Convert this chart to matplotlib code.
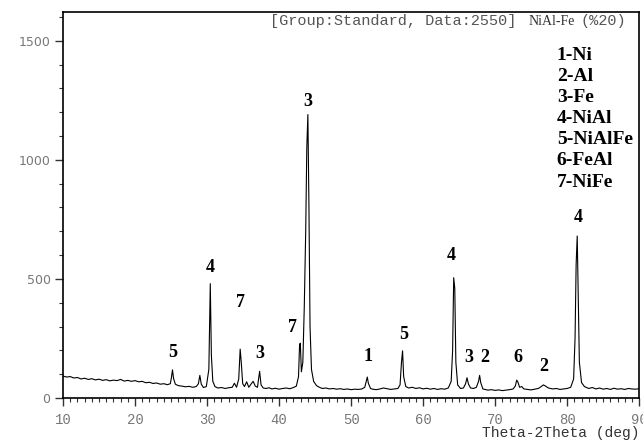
import numpy as np
import matplotlib.pyplot as plt
from matplotlib.ticker import MultipleLocator

# XRD scan (2theta in deg, intensity in counts)
two_theta = [
    10.0, 10.5, 11.0, 11.5, 12.0, 12.5, 13.0, 13.5, 14.0, 14.5,
    15.0, 15.5, 16.0, 16.5, 17.0, 17.5, 18.0, 18.5, 19.0, 19.5,
    20.0, 20.5, 21.0, 21.5, 22.0, 22.5, 23.0, 23.5, 24.0, 24.5,
    24.9, 25.05, 25.2, 25.35, 25.6, 26.0, 26.5, 27.0, 27.5, 28.0,
    28.5, 28.8, 29.0, 29.2, 29.5, 29.9, 30.25, 30.45, 30.6, 30.8,
    31.1, 31.5, 32.0, 32.5, 33.0, 33.5, 33.8, 34.1, 34.4, 34.6,
    34.75, 34.95, 35.2, 35.5, 35.8, 36.1, 36.4, 36.7, 37.0, 37.3,
    37.5, 37.8, 38.2, 38.6, 39.0, 39.5, 40.0, 40.5, 41.0, 41.5,
    42.0, 42.4, 42.7, 42.85, 42.95, 43.1, 43.3, 43.5, 43.7, 43.85,
    44.0, 44.15, 44.3, 44.5, 44.8, 45.2, 45.6, 46.0, 46.5, 47.0,
    47.5, 48.0, 48.5, 49.0, 49.5, 50.0, 50.5, 51.0, 51.5, 51.9,
    52.1, 52.25, 52.4, 52.7, 53.0, 53.5, 54.0, 54.5, 55.0, 55.5,
    56.0, 56.5, 56.8, 57.0, 57.15, 57.3, 57.6, 58.0, 58.5, 59.0,
    59.5, 60.0, 60.5, 61.0, 61.5, 62.0, 62.5, 63.0, 63.5, 63.9,
    64.1, 64.25, 64.4, 64.55, 64.8, 65.2, 65.6, 65.9, 66.1, 66.3,
    66.6, 67.0, 67.4, 67.7, 67.85, 68.0, 68.3, 68.7, 69.0, 69.5,
    70.0, 70.5, 71.0, 71.5, 72.0, 72.5, 72.8, 73.0, 73.15, 73.4,
    73.7, 74.0, 74.5, 75.0, 75.5, 76.0, 76.4, 76.7, 77.0, 77.4,
    78.0, 78.5, 79.0, 79.5, 80.0, 80.5, 80.9, 81.1, 81.25, 81.4,
    81.55, 81.7, 82.0, 82.4, 83.0, 83.5, 84.0, 84.5, 85.0, 85.5,
    86.0, 86.5, 87.0, 87.5, 88.0, 88.5, 89.0, 89.5, 90.0,
]
counts = [
    92, 88, 90, 84, 86, 80, 83, 78, 81, 76,
    79, 74, 77, 72, 75, 73, 78, 71, 74, 70,
    73, 68, 70, 64, 66, 61, 63, 58, 60, 56,
    60, 85, 118, 82, 58, 52, 50, 47, 49, 45,
    48, 60, 95, 58, 44, 48, 120, 480, 180, 70,
    48, 42, 44, 40, 43, 45, 62, 45, 80, 205,
    150, 60, 48, 68, 45, 58, 70, 50, 45, 112,
    55, 42, 40, 43, 38, 41, 37, 40, 42, 39,
    44, 50, 90, 225, 230, 110, 150, 380, 700, 1050,
    1190, 800, 300, 120, 70, 52, 45, 40, 42, 38,
    40, 37, 39, 36, 38, 35, 37, 36, 38, 45,
    70, 88, 62, 40, 37, 35, 38, 42, 39, 36,
    38, 40, 55, 150, 198, 90, 48, 42, 45, 40,
    43, 38, 41, 37, 40, 36, 39, 37, 42, 70,
    200, 505, 460, 150, 55, 40, 42, 60, 85, 58,
    42, 40, 45, 70, 95, 65, 38, 35, 33, 35,
    32, 34, 31, 33, 35, 38, 50, 75, 68, 45,
    48, 38, 36, 34, 37, 40, 48, 55, 50, 42,
    38, 40, 36, 38, 40, 45, 80, 250, 560, 680,
    420, 150, 65, 48, 40, 44, 38, 42, 37, 40,
    36, 41, 37, 39, 36, 40, 38, 37, 39,
]

# peak labels
label_x = [25.2, 30.5, 34.7, 37.3, 41.9, 44.0, 52.4, 57.3, 63.9, 66.4, 68.6, 73.2, 76.8, 81.5]
label_y = [193, 546, 400, 185, 294, 1244, 176, 265, 600, 172, 172, 168, 134, 756]
label_txt = ['5', '4', '7', '3', '7', '3', '1', '5', '4', '3', '2', '6', '2', '4']

phases = ['1-Ni', '2-Al', '3-Fe', '4-NiAl', '5-NiAlFe', '6-FeAl', '7-NiFe']

fig = plt.figure(figsize=(6.43, 4.41), dpi=100)
ax = fig.add_axes([0.098, 0.0975, 0.896, 0.875])
ax.plot(two_theta, counts, color='black', lw=0.8)

ax.set_xlim(10, 90)
ax.set_ylim(0, 1620)
ax.xaxis.set_major_locator(MultipleLocator(10))
ax.xaxis.set_minor_locator(MultipleLocator(1))
ax.yaxis.set_major_locator(MultipleLocator(500))
ax.yaxis.set_minor_locator(MultipleLocator(100))
ax.tick_params(which='major', length=6, width=1, color='#333333')
ax.tick_params(which='minor', length=3, width=0.8, color='#333333')
ax.tick_params(axis='x', labelsize=10, labelcolor='#777777', pad=5)
ax.tick_params(axis='y', labelsize=9, labelcolor='#777777', pad=3)
for t in ax.get_xticklabels():
    t.set_fontfamily('Liberation Mono')
for s in ax.spines.values():
    s.set_linewidth(1.2)

for x, y, t in zip(label_x, label_y, label_txt):
    ax.text(x, y, t, ha='center', va='center', fontsize=13,
            fontweight='bold', family='Liberation Serif')

fig.text(0.803, 0.952, '[Group:Standard, Data:2550]', ha='right', va='center',
         fontsize=11, family='Liberation Mono', color='#555555')
fig.text(0.822, 0.952, 'NiAl-Fe', ha='left', va='center',
         fontsize=10, family='Liberation Serif', color='#333333')
fig.text(0.903, 0.952, '(%20)', ha='left', va='center',
         fontsize=11, family='Liberation Mono', color='#555555')

for i, p in enumerate(phases):
    fig.text(0.866, 0.875 - i * 0.048, p, ha='left', va='center', fontsize=14,
             fontweight='bold', family='Liberation Serif')

fig.text(0.995, 0.018, 'Theta-2Theta (deg)', ha='right', va='center',
         fontsize=10.5, family='Liberation Mono', color='#333333')

fig.savefig('out.png', dpi=100)
